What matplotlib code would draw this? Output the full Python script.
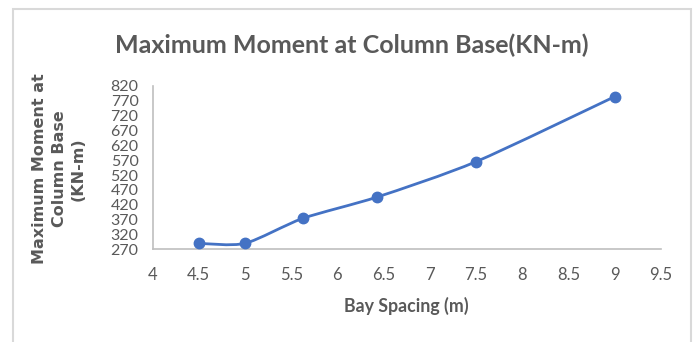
import matplotlib
matplotlib.use('Agg')
import matplotlib.pyplot as plt
from matplotlib.path import Path
from matplotlib.patches import PathPatch, Rectangle
import numpy as np

# bay spacing (m) and max moment at column base (KN-m)
bay_spacing = [4.5, 5.0, 5.625, 6.43, 7.5, 9.0]
max_moment = [290, 290, 374, 446, 565, 784]

x_ticks = [4, 4.5, 5, 5.5, 6, 6.5, 7, 7.5, 8, 8.5, 9, 9.5]
x_tick_labels = ['4', '4.5', '5', '5.5', '6', '6.5', '7', '7.5', '8', '8.5', '9', '9.5']
y_ticks = [270, 320, 370, 420, 470, 520, 570, 620, 670, 720, 770, 820]

BLUE = '#4472C4'
GREY = '#595959'
NARROW = ['Lato', 'DejaVu Sans']


def smooth_path(xs, ys):
    """Bezier path through the points, like a spreadsheet smoothed line."""
    pts = np.column_stack([xs, ys]).astype(float)
    n = len(pts)
    verts = [pts[0]]
    codes = [Path.MOVETO]
    for i in range(n - 1):
        p0 = pts[i - 1] if i > 0 else pts[i]
        p1 = pts[i]
        p2 = pts[i + 1]
        p3 = pts[i + 2] if i + 2 < n else pts[i + 1]
        c1 = p1 + (p2 - p0) / 8.0
        c2 = p2 - (p3 - p1) / 8.0
        verts += [c1, c2, p2]
        codes += [Path.CURVE4] * 3
    return Path(verts, codes)


fig = plt.figure(figsize=(7.0, 3.42), dpi=100)

# chart frame
fig.patches.append(Rectangle((12.7 / 700, -0.05), (691 - 12.7) / 700, 1.05 - 9 / 342,
                             transform=fig.transFigure, fill=False,
                             edgecolor='#d9d9d9', linewidth=1.5))

ax = fig.add_axes([152.5 / 700, 1 - 249.3 / 342, 508.5 / 700, (249.3 - 85.9) / 342])

ax.add_patch(PathPatch(smooth_path(bay_spacing, max_moment), facecolor='none',
                       edgecolor=BLUE, linewidth=2.0, capstyle='round', zorder=3))
ax.plot(bay_spacing, max_moment, linestyle='none', marker='o', markersize=7.5,
        color=BLUE, zorder=4)

ax.set_xlim(4, 9.5)
ax.set_ylim(270, 820)
ax.set_xticks(x_ticks)
ax.set_xticklabels(x_tick_labels)
ax.set_yticks(y_ticks)

for side in ['top', 'right']:
    ax.spines[side].set_visible(False)
for side in ['left', 'bottom']:
    ax.spines[side].set_color('#bfbfbf')
    ax.spines[side].set_linewidth(1.2)

ax.tick_params(axis='x', length=0, pad=13, labelsize=12, labelcolor=GREY)
ax.tick_params(axis='y', length=0, pad=10, labelsize=11.5, labelcolor=GREY)
for lab in ax.get_xticklabels() + ax.get_yticklabels():
    lab.set_family(NARROW)
for lab in ax.get_yticklabels():
    lab.set_verticalalignment('center_baseline')

fig.text(352 / 700, 1 - 53.3 / 342, 'Maximum Moment at Column Base(KN-m)',
         ha='center', va='baseline', fontsize=18, fontweight='bold',
         color=GREY, family=NARROW)
fig.text(406 / 700, 1 - 311.7 / 342, 'Bay Spacing (m)', ha='center', va='baseline',
         fontsize=12.8, fontweight='bold', color=GREY, family=NARROW)
fig.text(59 / 700, 1 - 169 / 342, 'Maximum Moment at\nColumn Base\n(KN-m)',
         ha='center', va='center', rotation=90, multialignment='center',
         fontsize=11.5, fontweight='bold', color=GREY, linespacing=1.35,
         family='DejaVu Sans')

fig.savefig('out.png', dpi=100, facecolor='white')
